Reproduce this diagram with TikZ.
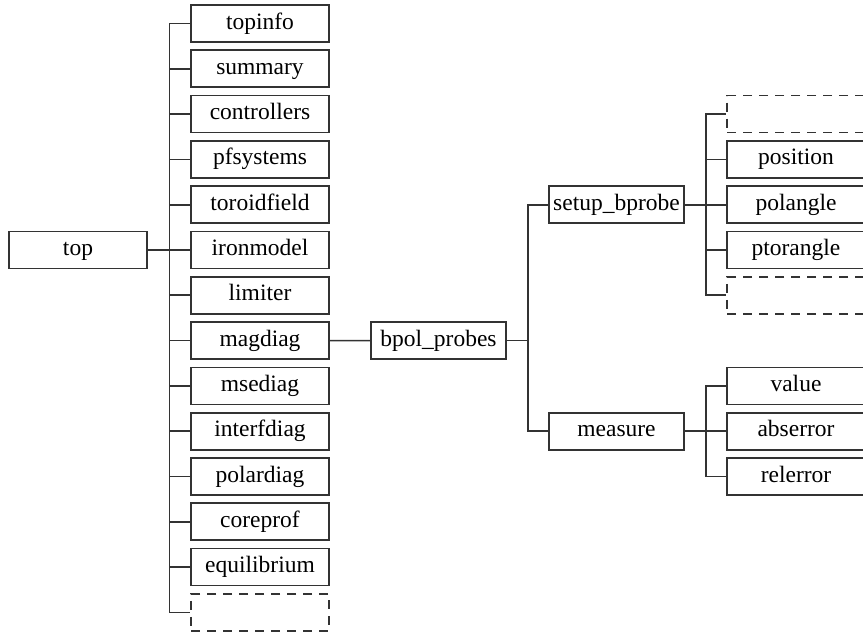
\documentclass[tikz,border=0pt]{standalone}
\usepackage{fontspec}
\setmainfont{Liberation Serif}
\begin{document}
\begin{tikzpicture}[x=1pt,y=-1pt,
  box/.style={draw=black!80, line width=1.7pt, minimum width=138pt, minimum height=37pt, inner sep=0pt, text height=16pt, text depth=5pt, font=\fontsize{23.5}{28}\selectfont, text=black},
  nbox/.style={box, minimum width=135pt},
  dbox/.style={box, dash pattern=on 9pt off 7pt},
  conn/.style={draw=black!80, line width=1.7pt}]
\clip (0,0) rectangle (863,635);
\fill[white] (0,0) rectangle (863,635);
% left
\node[box] (top) at (78,250) {top};
\coordinate (j1) at (169.5,250);
% column 2
\foreach \n/\t [count=\i from 0] in {topinfo/topinfo,summary/summary,controllers/controllers,pfsystems/pfsystems,toroidfield/toroidfield,ironmodel/ironmodel,limiter/limiter,magdiag/magdiag,msediag/msediag,interfdiag/interfdiag,polardiag/polardiag,coreprof/coreprof,equilibrium/equilibrium}
  \node[box] (\n) at (260,23.5+45.3*\i) {\t};
\node[dbox] (more1) at (260,23.5+45.3*13) {};
\draw[conn] (top) -- (j1);
\foreach \n in {topinfo,summary,controllers,pfsystems,toroidfield,ironmodel,limiter,magdiag,msediag,interfdiag,polardiag,coreprof,equilibrium,more1}
  \draw[conn] (j1) |- (\n.west);
% bpol
\node[nbox] (bpol) at (438.5,340.6) {bpol\_probes};
\draw[conn] (magdiag) -- (bpol);
\coordinate (j2) at (528,340.6);
\node[nbox] (setup) at (616.5,204.7) {setup\_bprobe};
\node[nbox] (measure) at (616.5,431.2) {measure};
\draw[conn] (bpol) -- (j2);
\draw[conn] (j2) |- (setup.west);
\draw[conn] (j2) |- (measure.west);
% setup children
\coordinate (j3) at (706,204.7);
\node[dbox] (more2) at (796,23.5+45.3*2) {};
\node[box] (position) at (796,23.5+45.3*3) {position};
\node[box] (polangle) at (796,23.5+45.3*4) {polangle};
\node[box] (ptorangle) at (796,23.5+45.3*5) {ptorangle};
\node[dbox] (more3) at (796,23.5+45.3*6) {};
\draw[conn] (setup) -- (j3);
\foreach \n in {more2,position,polangle,ptorangle,more3}
  \draw[conn] (j3) |- (\n.west);
% measure children
\coordinate (j4) at (706,431.2);
\node[box] (value) at (796,23.5+45.3*8) {value};
\node[box] (abserror) at (796,23.5+45.3*9) {abserror};
\node[box] (relerror) at (796,23.5+45.3*10) {relerror};
\draw[conn] (measure) -- (j4);
\foreach \n in {value,abserror,relerror}
  \draw[conn] (j4) |- (\n.west);
\end{tikzpicture}
\end{document}
